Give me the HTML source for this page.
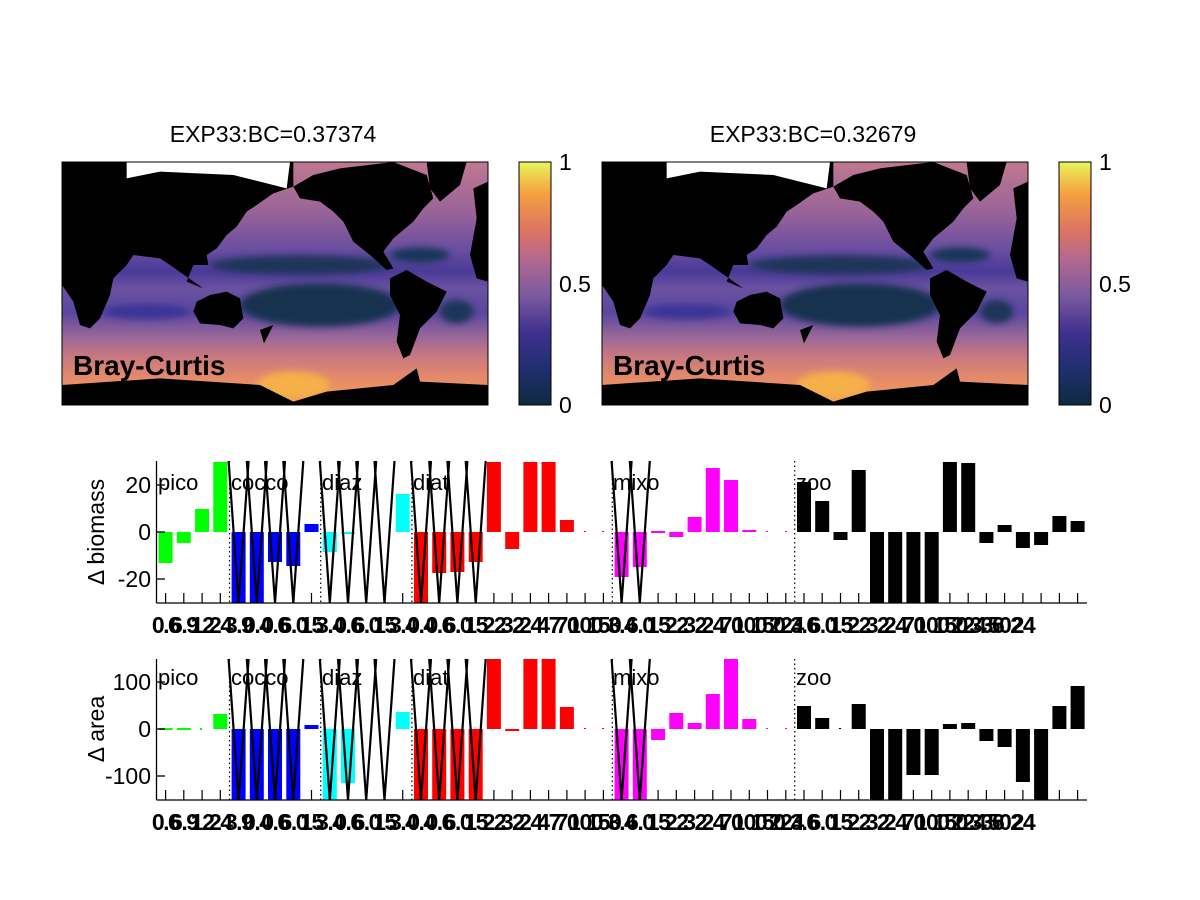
<!DOCTYPE html>
<html><head><meta charset="utf-8"><style>
html,body{margin:0;padding:0;background:#fff;}
svg{display:block;font-family:"Liberation Sans",sans-serif;}
</style></head><body>
<svg width="1200" height="900" viewBox="0 0 1200 900" xmlns="http://www.w3.org/2000/svg">
<defs>
<linearGradient id="oc" x1="0" y1="0" x2="0" y2="1">
<stop offset="0" stop-color="#c07890"/><stop offset="0.2" stop-color="#9a6498"/>
<stop offset="0.36" stop-color="#6a4ea0"/><stop offset="0.45" stop-color="#4a3a98"/>
<stop offset="0.52" stop-color="#6a52a0"/><stop offset="0.62" stop-color="#5a46a0"/>
<stop offset="0.72" stop-color="#9a6898"/><stop offset="0.8" stop-color="#c87880"/>
<stop offset="0.9" stop-color="#e88c68"/><stop offset="1" stop-color="#f0a050"/>
</linearGradient>
<linearGradient id="cb" x1="0" y1="1" x2="0" y2="0">
<stop offset="0" stop-color="#0d2a40"/><stop offset="0.15" stop-color="#1f2f6e"/>
<stop offset="0.3" stop-color="#403090"/><stop offset="0.45" stop-color="#7a5a9e"/>
<stop offset="0.6" stop-color="#b46890"/><stop offset="0.72" stop-color="#dd7560"/>
<stop offset="0.87" stop-color="#f5a040"/><stop offset="1" stop-color="#e8f55c"/>
</linearGradient>
<filter id="bl"><feGaussianBlur stdDeviation="10"/></filter>
<clipPath id="mc"><rect x="6" y="21" width="1278" height="729"/></clipPath>
<symbol id="map" viewBox="6 21 1278 729" preserveAspectRatio="none">
<g clip-path="url(#mc)">
<rect x="6" y="21" width="1278" height="729" fill="url(#oc)"/>
<g filter="url(#bl)">
<ellipse cx="720" cy="330" rx="270" ry="28" fill="#1a3458"/>
<ellipse cx="780" cy="450" rx="240" ry="65" fill="#123250"/>
<ellipse cx="1080" cy="300" rx="90" ry="22" fill="#163456"/>
<ellipse cx="1190" cy="470" rx="50" ry="35" fill="#1a3458"/>
<ellipse cx="260" cy="470" rx="130" ry="22" fill="#3a3496"/>
<ellipse cx="700" cy="690" rx="110" ry="40" fill="#f5b048"/>
</g>
<g fill="#000">
<polygon points="6,21 700,21 700,95 640,115 590,150 560,170 530,215 500,240 470,280 440,300 445,330 400,330 380,380 430,400 330,330 300,310 220,300 200,330 160,370 150,420 120,490 90,520 60,510 40,440 6,390"/>
<polygon points="410,440 450,420 500,410 540,430 550,490 520,520 480,510 420,505 400,470"/>
<polygon points="600,525 640,510 612,565"/>
<polygon points="700,95 760,60 840,40 1000,21 1100,60 1120,130 1090,160 1060,200 1000,250 970,290 1000,340 980,345 930,300 880,260 850,200 820,170 780,140 720,130"/>
<polygon points="1100,21 1220,21 1200,90 1140,140 1110,100"/>
<polygon points="1240,100 1284,80 1284,380 1250,370 1230,300 1250,190"/>
<polygon points="990,370 1040,345 1100,380 1160,410 1130,470 1080,520 1050,600 1030,610 1010,560 1020,480 990,420"/>
<polygon points="6,690 300,670 600,690 700,740 800,710 1000,690 1070,640 1080,680 1284,690 1284,750 6,750"/>
</g>
<polygon points="200,21 690,21 680,100 520,60 300,50 200,70" fill="#fff"/>
</g>
</symbol>
</defs>

<!-- Map 1 -->
<text x="273" y="142" font-size="23" text-anchor="middle">EXP33:BC=0.37374</text>
<use href="#map" x="62" y="162" width="426" height="243"/>
<rect x="62" y="162" width="426" height="243" fill="none" stroke="#000" stroke-width="1"/>
<text x="73" y="375" font-size="28" font-weight="bold">Bray-Curtis</text>
<rect x="519" y="162" width="32" height="243" fill="url(#cb)" stroke="#000" stroke-width="1"/>
<text x="559" y="170" font-size="23">1</text>
<text x="559" y="292" font-size="23">0.5</text>
<text x="559" y="413" font-size="23">0</text>

<!-- Map 2 -->
<text x="813" y="142" font-size="23" text-anchor="middle">EXP33:BC=0.32679</text>
<use href="#map" x="602" y="162" width="426" height="243"/>
<rect x="602" y="162" width="426" height="243" fill="none" stroke="#000" stroke-width="1"/>
<text x="613" y="375" font-size="28" font-weight="bold">Bray-Curtis</text>
<rect x="1059" y="162" width="32" height="243" fill="url(#cb)" stroke="#000" stroke-width="1"/>
<text x="1099" y="170" font-size="23">1</text>
<text x="1099" y="292" font-size="23">0.5</text>
<text x="1099" y="413" font-size="23">0</text>

<!-- Biomass panel -->
<g>
<g fill="#00ff00">
<rect x="158.6" y="532" width="14" height="31"/><rect x="176.8" y="532" width="14" height="11"/>
<rect x="195.1" y="509" width="14" height="23"/><rect x="213.3" y="462" width="14" height="70"/>
</g>
<g fill="#0000ff">
<rect x="231.6" y="532" width="14" height="71"/><rect x="249.8" y="532" width="14" height="71"/>
<rect x="268" y="532" width="14" height="30"/><rect x="286.3" y="532" width="14" height="34"/>
<rect x="304.5" y="524" width="14" height="8"/>
</g>
<g fill="#00ffff">
<rect x="322.8" y="532" width="14" height="20"/><rect x="341" y="532" width="14" height="2"/>
<rect x="395.7" y="494" width="14" height="38"/>
</g>
<g fill="#ff0000">
<rect x="414" y="532" width="14" height="71"/><rect x="432.2" y="532" width="14" height="41"/>
<rect x="450.4" y="532" width="14" height="40"/><rect x="468.7" y="532" width="14" height="30"/>
<rect x="486.9" y="462" width="14" height="70"/><rect x="505.2" y="532" width="14" height="17"/>
<rect x="523.4" y="462" width="14" height="70"/><rect x="541.6" y="462" width="14" height="70"/>
<rect x="559.9" y="520" width="14" height="12"/>
<rect x="584" y="531" width="2" height="1"/><rect x="602" y="531" width="2" height="1"/>
</g>
<g fill="#ff00ff">
<rect x="614.6" y="532" width="14" height="45"/><rect x="632.8" y="532" width="14" height="35"/>
<rect x="651.1" y="531" width="14" height="2"/><rect x="669.3" y="532" width="14" height="5"/>
<rect x="687.6" y="517" width="14" height="15"/><rect x="705.8" y="468" width="14" height="64"/>
<rect x="724" y="480" width="14" height="52"/><rect x="742.3" y="530" width="14" height="2"/>
<rect x="766" y="531" width="2" height="1"/><rect x="785" y="531" width="2" height="1"/>
</g>
<g fill="#000">
<rect x="797" y="482" width="14" height="50"/><rect x="815.2" y="501" width="14" height="31"/>
<rect x="833.5" y="532" width="14" height="8"/><rect x="851.7" y="470" width="14" height="62"/>
<rect x="870" y="532" width="14" height="71"/><rect x="888.2" y="532" width="14" height="71"/>
<rect x="906.4" y="532" width="14" height="71"/><rect x="924.7" y="532" width="14" height="71"/>
<rect x="942.9" y="462" width="14" height="70"/><rect x="961.2" y="463" width="14" height="69"/>
<rect x="979.4" y="532" width="14" height="11"/><rect x="997.6" y="525" width="14" height="7"/>
<rect x="1015.9" y="532" width="14" height="16"/><rect x="1034.1" y="532" width="14" height="13"/>
<rect x="1052.4" y="516" width="14" height="16"/><rect x="1070.6" y="521" width="14" height="11"/>
</g>
<g fill="none" stroke="#000" stroke-width="2.2">
<polyline points="228.6,461 238.6,603 248.6,461"/><polyline points="246.8,461 256.8,603 266.8,461"/>
<polyline points="265,461 275,603 285,461"/><polyline points="283.3,461 293.3,603 303.3,461"/>
<polyline points="319.8,461 329.8,603 339.8,461"/><polyline points="338,461 348,603 358,461"/>
<polyline points="356.2,461 366.2,603 376.2,461"/><polyline points="374.5,461 384.5,603 394.5,461"/>
<polyline points="411,461 421,603 431,461"/><polyline points="429.2,461 439.2,603 449.2,461"/>
<polyline points="447.4,461 457.4,603 467.4,461"/><polyline points="465.7,461 475.7,603 485.7,461"/>
<polyline points="611.6,461 621.6,603 631.6,461"/><polyline points="629.8,461 639.8,603 649.8,461"/>
</g>
<g stroke="#000" stroke-width="1.2" stroke-dasharray="1.5,3">
<line x1="229.5" y1="461" x2="229.5" y2="603"/><line x1="320.7" y1="461" x2="320.7" y2="603"/>
<line x1="411.9" y1="461" x2="411.9" y2="603"/><line x1="612.3" y1="461" x2="612.3" y2="603"/>
<line x1="794.7" y1="461" x2="794.7" y2="603"/>
</g>
<g font-size="22">
<text x="158" y="490">pico</text><text x="231" y="490">cocco</text><text x="322" y="490">diaz</text>
<text x="413" y="490">diat</text><text x="613" y="490">mixo</text><text x="796" y="490">zoo</text>
</g>
<g stroke="#000" stroke-width="1.3">
<line x1="156.5" y1="461" x2="156.5" y2="603"/><line x1="156.5" y1="603" x2="1087" y2="603"/>
<line x1="156.5" y1="485" x2="165" y2="485"/><line x1="156.5" y1="532" x2="165" y2="532"/><line x1="156.5" y1="579" x2="165" y2="579"/>
</g>
<g font-size="23" text-anchor="end">
<text x="151" y="493">20</text><text x="151" y="540">0</text><text x="151" y="587">-20</text>
</g>
<text transform="translate(104,532) rotate(-90)" font-size="23" text-anchor="middle">Δ biomass</text>
</g>

<!-- Area panel -->
<g>
<g fill="#00ff00">
<rect x="158.6" y="728" width="14" height="2"/><rect x="176.8" y="728" width="14" height="2"/>
<rect x="200" y="728" width="2" height="2"/><rect x="213.3" y="714" width="14" height="15"/>
</g>
<g fill="#0000ff">
<rect x="231.6" y="729" width="14" height="71"/><rect x="249.8" y="729" width="14" height="71"/>
<rect x="268" y="729" width="14" height="71"/><rect x="286.3" y="729" width="14" height="71"/>
<rect x="304.5" y="725" width="14" height="4"/>
</g>
<g fill="#00ffff">
<rect x="322.8" y="729" width="14" height="71"/><rect x="341" y="729" width="14" height="54"/>
<rect x="395.7" y="712" width="14" height="17"/>
</g>
<g fill="#ff0000">
<rect x="414" y="729" width="14" height="71"/><rect x="432.2" y="729" width="14" height="71"/>
<rect x="450.4" y="729" width="14" height="71"/><rect x="468.7" y="729" width="14" height="71"/>
<rect x="486.9" y="659" width="14" height="70"/><rect x="505.2" y="729" width="14" height="2"/>
<rect x="523.4" y="659" width="14" height="70"/><rect x="541.6" y="659" width="14" height="70"/>
<rect x="559.9" y="707" width="14" height="22"/>
<rect x="584" y="728" width="2" height="1"/><rect x="602" y="728" width="2" height="1"/>
</g>
<g fill="#ff00ff">
<rect x="614.6" y="729" width="14" height="71"/><rect x="632.8" y="729" width="14" height="71"/>
<rect x="651.1" y="729" width="14" height="11"/><rect x="669.3" y="713" width="14" height="16"/>
<rect x="687.6" y="723" width="14" height="6"/><rect x="705.8" y="694" width="14" height="35"/>
<rect x="724" y="659" width="14" height="70"/><rect x="742.3" y="719" width="14" height="10"/>
<rect x="766" y="728" width="2" height="1"/><rect x="785" y="728" width="2" height="1"/>
</g>
<g fill="#000">
<rect x="797" y="706" width="14" height="23"/><rect x="815.2" y="718" width="14" height="11"/>
<rect x="839" y="728" width="2" height="1"/><rect x="851.7" y="704" width="14" height="25"/>
<rect x="870" y="729" width="14" height="71"/><rect x="888.2" y="729" width="14" height="71"/>
<rect x="906.4" y="729" width="14" height="46"/><rect x="924.7" y="729" width="14" height="46"/>
<rect x="942.9" y="724" width="14" height="5"/><rect x="961.2" y="723" width="14" height="6"/>
<rect x="979.4" y="729" width="14" height="12"/><rect x="997.6" y="729" width="14" height="18"/>
<rect x="1015.9" y="729" width="14" height="53"/><rect x="1034.1" y="729" width="14" height="71"/>
<rect x="1052.4" y="706" width="14" height="23"/><rect x="1070.6" y="686" width="14" height="43"/>
</g>
<g fill="none" stroke="#000" stroke-width="2.2">
<polyline points="228.6,659 238.6,800 248.6,659"/><polyline points="246.8,659 256.8,800 266.8,659"/>
<polyline points="265,659 275,800 285,659"/><polyline points="283.3,659 293.3,800 303.3,659"/>
<polyline points="319.8,659 329.8,800 339.8,659"/><polyline points="338,659 348,800 358,659"/>
<polyline points="356.2,659 366.2,800 376.2,659"/><polyline points="374.5,659 384.5,800 394.5,659"/>
<polyline points="411,659 421,800 431,659"/><polyline points="429.2,659 439.2,800 449.2,659"/>
<polyline points="447.4,659 457.4,800 467.4,659"/><polyline points="465.7,659 475.7,800 485.7,659"/>
<polyline points="611.6,659 621.6,800 631.6,659"/><polyline points="629.8,659 639.8,800 649.8,659"/>
</g>
<g stroke="#000" stroke-width="1.2" stroke-dasharray="1.5,3">
<line x1="229.5" y1="659" x2="229.5" y2="800"/><line x1="320.7" y1="659" x2="320.7" y2="800"/>
<line x1="411.9" y1="659" x2="411.9" y2="800"/><line x1="612.3" y1="659" x2="612.3" y2="800"/>
<line x1="794.7" y1="659" x2="794.7" y2="800"/>
</g>
<g font-size="22">
<text x="158" y="685">pico</text><text x="231" y="685">cocco</text><text x="322" y="685">diaz</text>
<text x="413" y="685">diat</text><text x="613" y="685">mixo</text><text x="796" y="685">zoo</text>
</g>
<g stroke="#000" stroke-width="1.3">
<line x1="156.5" y1="659" x2="156.5" y2="800"/><line x1="156.5" y1="800" x2="1087" y2="800"/>
<line x1="156.5" y1="682" x2="165" y2="682"/><line x1="156.5" y1="729" x2="165" y2="729"/><line x1="156.5" y1="776" x2="165" y2="776"/>
</g>
<g font-size="23" text-anchor="end">
<text x="151" y="690">100</text><text x="151" y="737">0</text><text x="151" y="784">-100</text>
</g>
<text transform="translate(104,729) rotate(-90)" font-size="23" text-anchor="middle">Δ area</text>
</g>

<!-- x ticks (both panels) -->
<g stroke="#000" stroke-width="1.2">
<path d="M165.6,603v-10M183.8,603v-10M202.1,603v-10M220.3,603v-10M238.6,603v-10M256.8,603v-10M275,603v-10M293.3,603v-10M311.5,603v-10M329.8,603v-10M348,603v-10M366.2,603v-10M384.5,603v-10M402.7,603v-10M421,603v-10M439.2,603v-10M457.4,603v-10M475.7,603v-10M493.9,603v-10M512.2,603v-10M530.4,603v-10M548.6,603v-10M566.9,603v-10M585.1,603v-10M603.4,603v-10M621.6,603v-10M639.8,603v-10M658.1,603v-10M676.3,603v-10M694.6,603v-10M712.8,603v-10M731,603v-10M749.3,603v-10M767.5,603v-10M785.8,603v-10M804,603v-10M822.2,603v-10M840.5,603v-10M858.7,603v-10M877,603v-10M895.2,603v-10M913.4,603v-10M931.7,603v-10M949.9,603v-10M968.2,603v-10M986.4,603v-10M1004.6,603v-10M1022.9,603v-10M1041.1,603v-10M1059.4,603v-10M1077.6,603v-10"/>
<path transform="translate(0,197)" d="M165.6,603v-10M183.8,603v-10M202.1,603v-10M220.3,603v-10M238.6,603v-10M256.8,603v-10M275,603v-10M293.3,603v-10M311.5,603v-10M329.8,603v-10M348,603v-10M366.2,603v-10M384.5,603v-10M402.7,603v-10M421,603v-10M439.2,603v-10M457.4,603v-10M475.7,603v-10M493.9,603v-10M512.2,603v-10M530.4,603v-10M548.6,603v-10M566.9,603v-10M585.1,603v-10M603.4,603v-10M621.6,603v-10M639.8,603v-10M658.1,603v-10M676.3,603v-10M694.6,603v-10M712.8,603v-10M731,603v-10M749.3,603v-10M767.5,603v-10M785.8,603v-10M804,603v-10M822.2,603v-10M840.5,603v-10M858.7,603v-10M877,603v-10M895.2,603v-10M913.4,603v-10M931.7,603v-10M949.9,603v-10M968.2,603v-10M986.4,603v-10M1004.6,603v-10M1022.9,603v-10M1041.1,603v-10M1059.4,603v-10M1077.6,603v-10"/>
</g>
<g font-size="23" text-anchor="middle" letter-spacing="-1.5" font-weight="bold">
<text x="165.6" y="633">0.6</text><text x="183.8" y="633">6.9</text><text x="202.1" y="633">12</text><text x="220.3" y="633">24</text>
<text x="238.6" y="633">3.9</text><text x="256.8" y="633">0.4</text><text x="275" y="633">0.6</text><text x="293.3" y="633">6.0</text>
<text x="311.5" y="633">15</text><text x="329.8" y="633">3.4</text><text x="348" y="633">0.6</text><text x="366.2" y="633">6.0</text>
<text x="384.5" y="633">15</text><text x="402.7" y="633">3.4</text><text x="421" y="633">0.4</text><text x="439.2" y="633">0.6</text>
<text x="457.4" y="633">6.0</text><text x="475.7" y="633">15</text><text x="493.9" y="633">22</text><text x="512.2" y="633">32</text>
<text x="530.4" y="633">24</text><text x="548.6" y="633">47</text><text x="566.9" y="633">70</text><text x="585.1" y="633">100</text>
<text x="603.4" y="633">150</text><text x="621.6" y="633">3.4</text><text x="639.8" y="633">6.0</text><text x="658.1" y="633">15</text>
<text x="676.3" y="633">22</text><text x="694.6" y="633">32</text><text x="712.8" y="633">24</text><text x="731" y="633">70</text>
<text x="749.3" y="633">100</text><text x="767.5" y="633">150</text><text x="785.8" y="633">224</text><text x="804" y="633">3.6</text>
<text x="822.2" y="633">6.0</text><text x="840.5" y="633">15</text><text x="858.7" y="633">22</text><text x="877" y="633">32</text>
<text x="895.2" y="633">24</text><text x="913.4" y="633">70</text><text x="931.7" y="633">100</text><text x="949.9" y="633">150</text>
<text x="968.2" y="633">224</text><text x="986.4" y="633">336</text><text x="1004.6" y="633">502</text><text x="1022.9" y="633">24</text>
</g>
<g font-size="23" text-anchor="middle" letter-spacing="-1.5" font-weight="bold">
<text x="165.6" y="830">0.6</text><text x="183.8" y="830">6.9</text><text x="202.1" y="830">12</text><text x="220.3" y="830">24</text>
<text x="238.6" y="830">3.9</text><text x="256.8" y="830">0.4</text><text x="275" y="830">0.6</text><text x="293.3" y="830">6.0</text>
<text x="311.5" y="830">15</text><text x="329.8" y="830">3.4</text><text x="348" y="830">0.6</text><text x="366.2" y="830">6.0</text>
<text x="384.5" y="830">15</text><text x="402.7" y="830">3.4</text><text x="421" y="830">0.4</text><text x="439.2" y="830">0.6</text>
<text x="457.4" y="830">6.0</text><text x="475.7" y="830">15</text><text x="493.9" y="830">22</text><text x="512.2" y="830">32</text>
<text x="530.4" y="830">24</text><text x="548.6" y="830">47</text><text x="566.9" y="830">70</text><text x="585.1" y="830">100</text>
<text x="603.4" y="830">150</text><text x="621.6" y="830">3.4</text><text x="639.8" y="830">6.0</text><text x="658.1" y="830">15</text>
<text x="676.3" y="830">22</text><text x="694.6" y="830">32</text><text x="712.8" y="830">24</text><text x="731" y="830">70</text>
<text x="749.3" y="830">100</text><text x="767.5" y="830">150</text><text x="785.8" y="830">224</text><text x="804" y="830">3.6</text>
<text x="822.2" y="830">6.0</text><text x="840.5" y="830">15</text><text x="858.7" y="830">22</text><text x="877" y="830">32</text>
<text x="895.2" y="830">24</text><text x="913.4" y="830">70</text><text x="931.7" y="830">100</text><text x="949.9" y="830">150</text>
<text x="968.2" y="830">224</text><text x="986.4" y="830">336</text><text x="1004.6" y="830">502</text><text x="1022.9" y="830">24</text>
</g>
</svg>
</body></html>
